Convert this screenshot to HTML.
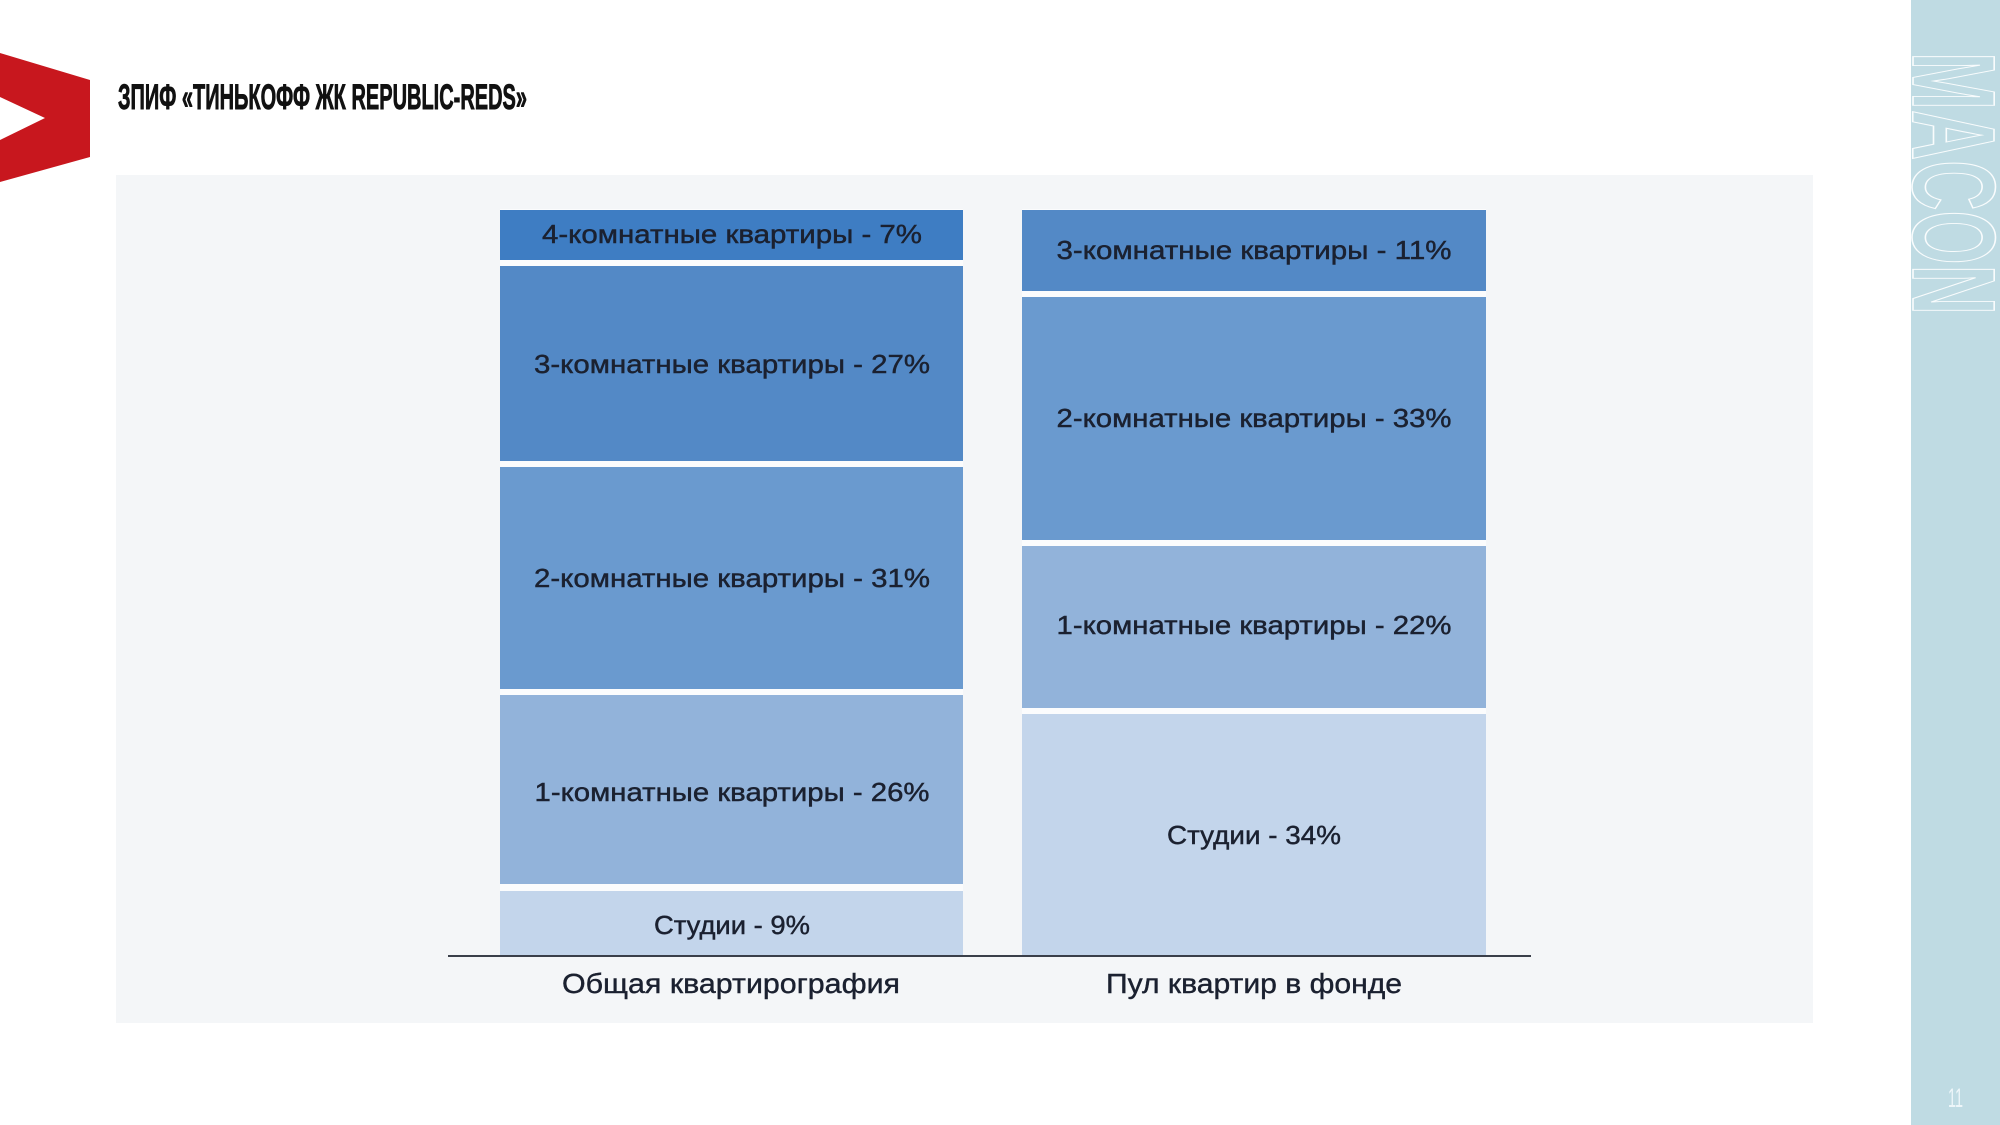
<!DOCTYPE html>
<html>
<head>
<meta charset="utf-8">
<style>
  html,body{margin:0;padding:0;background:#ffffff;}
  body{width:2000px;height:1125px;overflow:hidden;}
  svg{display:block;}
  .lbl{font-family:"Liberation Sans","DejaVu Sans",sans-serif;font-size:26px;fill:#1b2130;stroke:#1b2130;stroke-width:0.45px;}
  .cat{font-family:"Liberation Sans","DejaVu Sans",sans-serif;font-size:28px;fill:#1b2130;stroke:#1b2130;stroke-width:0.4px;}
</style>
</head>
<body>
<svg width="2000" height="1125" viewBox="0 0 2000 1125" xmlns="http://www.w3.org/2000/svg">
  <rect x="0" y="0" width="2000" height="1125" fill="#ffffff"/>

  <!-- logo -->
  <polygon points="0,53 90,80 90,157 0,182" fill="#c8171e"/>
  <polygon points="0,97 45,118 0,140" fill="#ffffff"/>

  <!-- title -->
  <text x="118" y="109" textLength="409" lengthAdjust="spacingAndGlyphs"
        style="font-family:'Liberation Sans Narrow','Liberation Sans',sans-serif;font-weight:bold;font-size:35px;fill:#111111;stroke:#111111;stroke-width:0.9px;">ЗПИФ «ТИНЬКОФФ ЖК REPUBLIC-REDS»</text>

  <!-- panel -->
  <rect x="116" y="175" width="1697" height="848" fill="#f4f6f8"/>

  <!-- left bar -->
  <rect x="500" y="209" width="463" height="747" fill="#fbfcfd"/>
  <rect x="500" y="210" width="463" height="50" fill="#3e7dc3"/>
  <rect x="500" y="266" width="463" height="195" fill="#5389c6"/>
  <rect x="500" y="467" width="463" height="222" fill="#6a9acf"/>
  <rect x="500" y="695" width="463" height="189" fill="#92b3da"/>
  <rect x="500" y="891" width="463" height="65" fill="#c3d5eb"/>

  <!-- right bar -->
  <rect x="1022" y="209" width="464" height="747" fill="#fbfcfd"/>
  <rect x="1022" y="210" width="464" height="81" fill="#5389c6"/>
  <rect x="1022" y="297" width="464" height="243" fill="#6a9acf"/>
  <rect x="1022" y="546" width="464" height="162" fill="#92b3da"/>
  <rect x="1022" y="714" width="464" height="242" fill="#c3d5eb"/>

  <!-- axis -->
  <rect x="448" y="955" width="1083" height="2" fill="#3a3f4a"/>

  <!-- left labels -->
  <text class="lbl" x="732" y="243" text-anchor="middle" textLength="380" lengthAdjust="spacingAndGlyphs">4-комнатные квартиры - 7%</text>
  <text class="lbl" x="732" y="373" text-anchor="middle" textLength="396" lengthAdjust="spacingAndGlyphs">3-комнатные квартиры - 27%</text>
  <text class="lbl" x="732" y="587" text-anchor="middle" textLength="396" lengthAdjust="spacingAndGlyphs">2-комнатные квартиры - 31%</text>
  <text class="lbl" x="732" y="801" text-anchor="middle" textLength="395" lengthAdjust="spacingAndGlyphs">1-комнатные квартиры - 26%</text>
  <text class="lbl" x="732" y="934" text-anchor="middle" textLength="156" lengthAdjust="spacingAndGlyphs">Студии - 9%</text>

  <!-- right labels -->
  <text class="lbl" x="1254" y="259" text-anchor="middle" textLength="395" lengthAdjust="spacingAndGlyphs">3-комнатные квартиры - 11%</text>
  <text class="lbl" x="1254" y="427" text-anchor="middle" textLength="395" lengthAdjust="spacingAndGlyphs">2-комнатные квартиры - 33%</text>
  <text class="lbl" x="1254" y="634" text-anchor="middle" textLength="395" lengthAdjust="spacingAndGlyphs">1-комнатные квартиры - 22%</text>
  <text class="lbl" x="1254" y="844" text-anchor="middle" textLength="174" lengthAdjust="spacingAndGlyphs">Студии - 34%</text>

  <!-- category labels -->
  <text class="cat" x="731" y="993" text-anchor="middle" textLength="338" lengthAdjust="spacingAndGlyphs">Общая квартирография</text>
  <text class="cat" x="1254" y="993" text-anchor="middle" textLength="296" lengthAdjust="spacingAndGlyphs">Пул квартир в фонде</text>

  <!-- sidebar -->
  <rect x="1911" y="0" width="89" height="1125" fill="#bfdbe3"/>
  <g transform="translate(1913,52) rotate(90)">
    <text x="0" y="0" textLength="263" lengthAdjust="spacingAndGlyphs"
          style="font-family:'Liberation Sans Narrow','Liberation Sans',sans-serif;font-weight:bold;font-size:118px;fill:none;stroke:#ffffff;stroke-width:1.6px;stroke-opacity:0.9;">MACON</text>
  </g>
  <text x="1948" y="1107" textLength="15" lengthAdjust="spacingAndGlyphs"
        style="font-family:'Liberation Sans Narrow','Liberation Sans',sans-serif;font-size:27px;fill:#eef6f9;">11</text>
</svg>
</body>
</html>
